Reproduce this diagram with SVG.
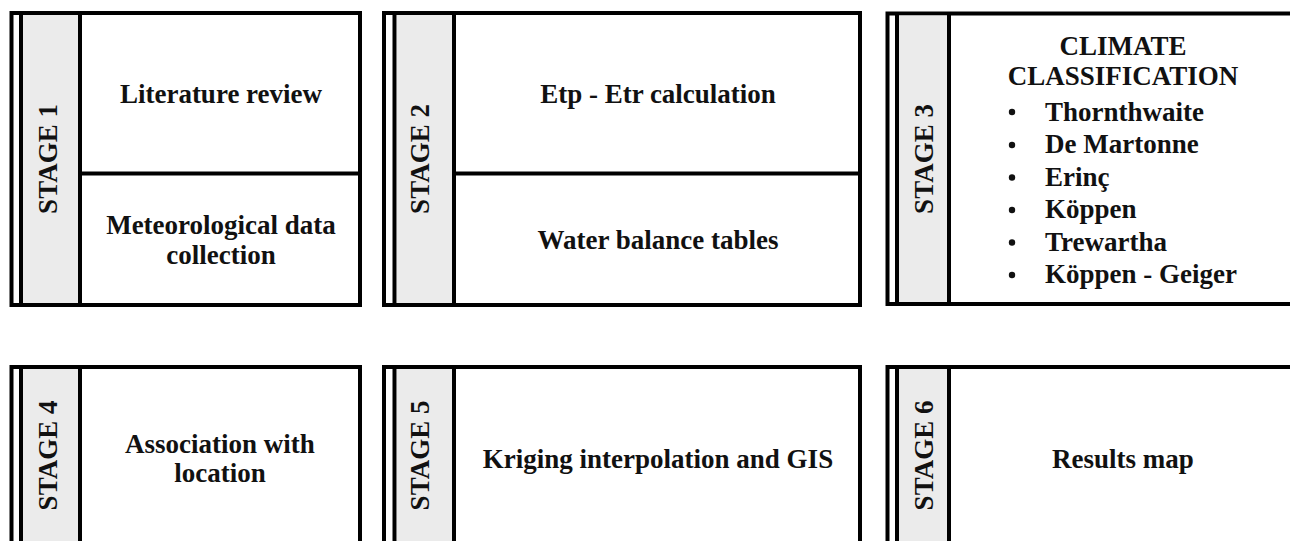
<svg xmlns="http://www.w3.org/2000/svg" width="1290" height="541" viewBox="0 0 1290 541">
<style>
.box{fill:#ffffff;stroke:#000;stroke-width:4}
.band{fill:#ebebeb;stroke:none}
.ln{stroke:#000;stroke-width:4;fill:none}
.t{font-weight:bold;font-size:27px;fill:#111}
.c{text-anchor:middle}
</style>
<rect width="1290" height="541" fill="#ffffff"/>
<g font-family="'Liberation Serif', 'DejaVu Serif', serif">
<g id="stage1">
<rect class="box" x="11.5" y="13" width="348.5" height="292"/>
<rect class="band" x="23" y="15" width="55" height="288"/>
<line class="ln" x1="21" y1="13" x2="21" y2="305"/>
<line class="ln" x1="80" y1="13" x2="80" y2="305"/>
<line class="ln" x1="80" y1="173.5" x2="360" y2="173.5"/>
<text class="t c" transform="translate(57,159) rotate(-90)">STAGE 1</text>
<text class="t c" x="221" y="103">Literature review</text>
<text class="t c" x="221" y="234">Meteorological data</text>
<text class="t c" x="221" y="264">collection</text>
</g>
<g id="stage2">
<rect class="box" x="384" y="13" width="476" height="292"/>
<rect class="band" x="397" y="15" width="55" height="288"/>
<line class="ln" x1="394.5" y1="13" x2="394.5" y2="305"/>
<line class="ln" x1="454" y1="13" x2="454" y2="305"/>
<line class="ln" x1="454" y1="173.5" x2="860" y2="173.5"/>
<text class="t c" transform="translate(429,159) rotate(-90)">STAGE 2</text>
<text class="t c" x="658" y="103">Etp - Etr calculation</text>
<text class="t c" x="658" y="249">Water balance tables</text>
</g>
<g id="stage3">
<rect class="box" x="887.5" y="13.5" width="480" height="290.5"/>
<rect class="band" x="899" y="15.5" width="48" height="286.5"/>
<line class="ln" x1="897" y1="13.5" x2="897" y2="304"/>
<line class="ln" x1="949" y1="13.5" x2="949" y2="304"/>
<text class="t c" transform="translate(933,159) rotate(-90)">STAGE 3</text>
<text class="t c" x="1123" y="55">CLIMATE</text>
<text class="t c" x="1123" y="85">CLASSIFICATION</text>
<g fill="#111">
<circle cx="1012" cy="112" r="3.2"/>
<circle cx="1012" cy="145" r="3.2"/>
<circle cx="1012" cy="177.5" r="3.2"/>
<circle cx="1012" cy="210" r="3.2"/>
<circle cx="1012" cy="242.5" r="3.2"/>
<circle cx="1012" cy="275" r="3.2"/>
</g>
<text class="t" x="1045" y="121">Thornthwaite</text>
<text class="t" x="1045" y="153">De Martonne</text>
<text class="t" x="1045" y="186">Erinç</text>
<text class="t" x="1045" y="218">Köppen</text>
<text class="t" x="1045" y="251">Trewartha</text>
<text class="t" x="1045" y="283">Köppen - Geiger</text>
</g>
<g id="stage4">
<rect class="box" x="11.5" y="367" width="348.5" height="200"/>
<rect class="band" x="23" y="369" width="55" height="200"/>
<line class="ln" x1="21" y1="367" x2="21" y2="560"/>
<line class="ln" x1="80" y1="367" x2="80" y2="560"/>
<text class="t c" transform="translate(57,455.5) rotate(-90)">STAGE 4</text>
<text class="t c" x="220" y="453">Association with</text>
<text class="t c" x="220" y="482">location</text>
</g>
<g id="stage5">
<rect class="box" x="384" y="367" width="476" height="200"/>
<rect class="band" x="397" y="369" width="55" height="200"/>
<line class="ln" x1="394.5" y1="367" x2="394.5" y2="560"/>
<line class="ln" x1="454" y1="367" x2="454" y2="560"/>
<text class="t c" transform="translate(429,455.5) rotate(-90)">STAGE 5</text>
<text class="t c" x="658" y="468">Kriging interpolation and GIS</text>
</g>
<g id="stage6">
<rect class="box" x="887.5" y="367" width="480" height="200"/>
<rect class="band" x="899" y="369" width="48" height="200"/>
<line class="ln" x1="897" y1="367" x2="897" y2="560"/>
<line class="ln" x1="949" y1="367" x2="949" y2="560"/>
<text class="t c" transform="translate(933,455.5) rotate(-90)">STAGE 6</text>
<text class="t c" x="1123" y="468">Results map</text>
</g>
</g>
<g id="connectors"></g>
</svg>
